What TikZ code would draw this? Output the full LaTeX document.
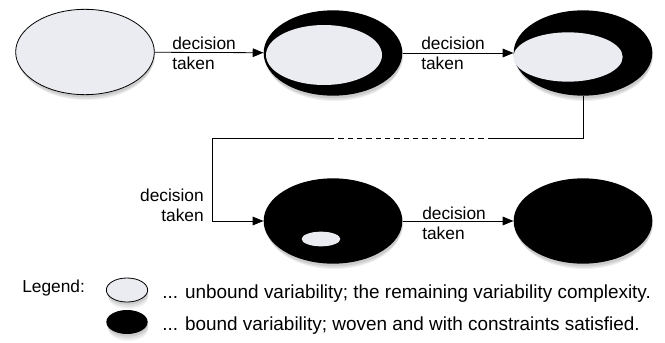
\documentclass[tikz,border=0pt]{standalone}
\usepackage{fontspec}
\setmainfont{Liberation Sans}
\usetikzlibrary{arrows.meta,positioning,shapes.geometric,shadows}
\definecolor{freefill}{RGB}{235,236,241}

\begin{document}
\begin{tikzpicture}[
  x=0.75pt, y=-0.75pt,
  font=\fontsize{13}{15}\selectfont,
  every node/.style={inner sep=0pt},
  soft/.style={drop shadow={shadow xshift=0.6pt, shadow yshift=-2pt, opacity=0.22},
               drop shadow={shadow xshift=0.8pt, shadow yshift=-4pt, shadow scale=0.98, opacity=0.15},
               drop shadow={shadow xshift=1pt, shadow yshift=-6pt, shadow scale=0.95, opacity=0.10}},
  big/.style={ellipse, minimum width=104pt, minimum height=64pt},
  free/.style={big, draw=black, line width=0.6pt, fill=freefill, soft},
  bound/.style={big, fill=black, soft},
  hole/.style={ellipse, fill=freefill},
  fl/.style={-{Triangle[length=8pt,width=6.5pt]}, line width=0.6pt},
  lbl/.style={align=left, anchor=west},
  key/.style={ellipse, soft, minimum width=31pt, minimum height=18pt},
  keytext/.style={anchor=west, font=\fontsize{14.2}{16}\selectfont},
]
\useasboundingbox (0,0) rectangle (665,343);

% ---- top row ----
\node[free]  (e1) at (85,52)  {};
\node[bound] (e2) at (333,53) {};
\node[hole, minimum width=87pt, minimum height=45pt] (h2) at (324,55) {};
\node[bound] (e3) at (583,53) {};
\node[hole, minimum width=82pt, minimum height=37pt] (h3) at (568,57) {};

\draw[fl] (e1) -- (e2);
\draw[fl] (e2) -- (e3);
\node[lbl] (l1) at (172,53) {decision\\taken};
\node[lbl] (l2) at (421,53) {decision\\taken};

% ---- bottom row ----
\node[bound] (e4) at (333,221) {};
\node[hole, minimum width=29pt, minimum height=11pt] (h4) at (321,239) {};
\node[bound] (e5) at (583,221) {};

\draw[fl] (e4) -- (e5);
\node[lbl] (l4) at (422,223) {decision\\taken};

% ---- connector between the rows ----
\coordinate (dashR) at (493,138);
\coordinate (dashL) at (333,138);
\coordinate (bend)  at (212,138);
\draw[line width=0.6pt] (e3.south) |- (dashR);
\draw[line width=0.6pt, dash pattern=on 4pt off 3pt] (dashR) -- (dashL);
\draw[fl] (dashL) -- (bend) |- (e4.west);
\node[align=right, anchor=east] (l3) at (204,205) {decision\\taken};

% ---- legend ----
\node[anchor=west] (leg) at (22,288) {Legend:};
\node[key, draw=black, line width=0.6pt, fill=freefill] (kfree) at (127,290) {};
\node[key, fill=black] (kbound) at (127,322) {};
\node[keytext] (tfree) at (162,294)
  {... unbound variability; the remaining variability complexity.};
\node[keytext] (tbound) at (162,326)
  {... bound variability; woven and with constraints satisfied.};

\end{tikzpicture}
\end{document}
